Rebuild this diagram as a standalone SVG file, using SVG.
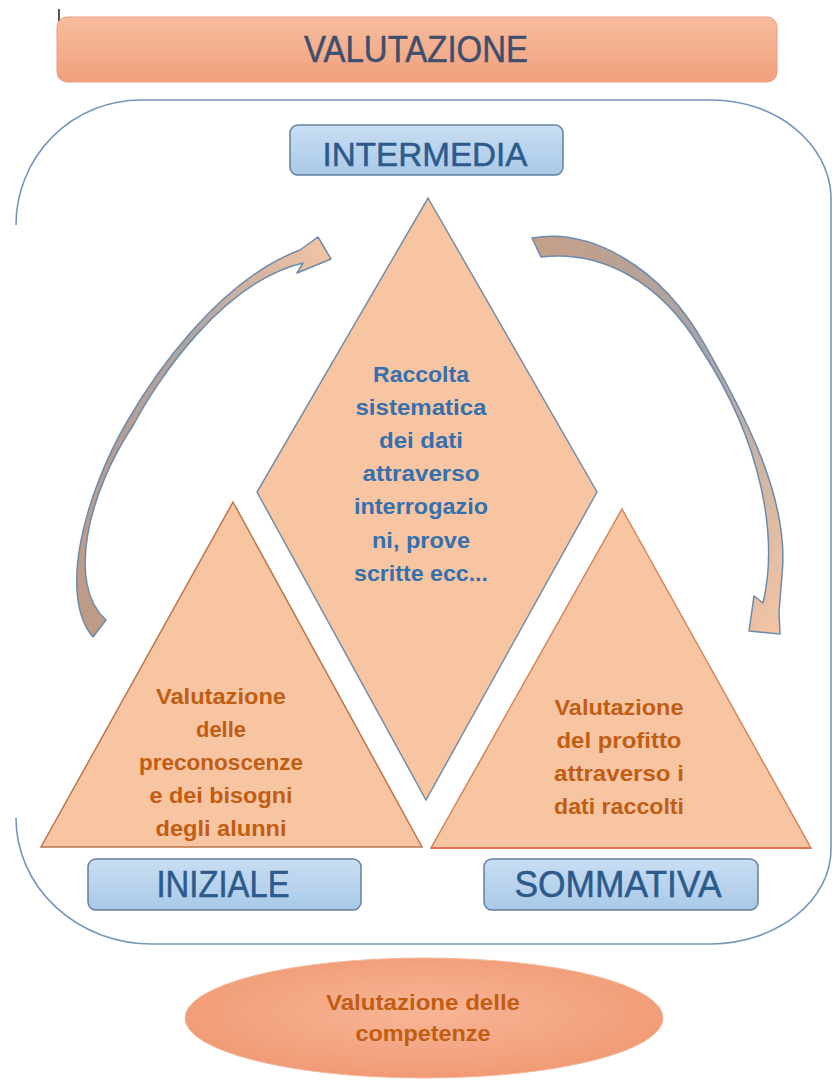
<svg xmlns="http://www.w3.org/2000/svg" width="832" height="1081" viewBox="0 0 832 1081">
  <defs>
    <linearGradient id="gBar" x1="0" y1="0" x2="0" y2="1">
      <stop offset="0" stop-color="#f8bd9e"/>
      <stop offset="1" stop-color="#f0a07c"/>
    </linearGradient>
    <linearGradient id="gBox" x1="0" y1="0" x2="0" y2="1">
      <stop offset="0" stop-color="#c9def2"/>
      <stop offset="1" stop-color="#a9c9e8"/>
    </linearGradient>
    <radialGradient id="gEll" cx="0.5" cy="0.45" r="0.6">
      <stop offset="0" stop-color="#f8b696"/>
      <stop offset="1" stop-color="#f09872"/>
    </radialGradient>
    <linearGradient id="gArrL" x1="0" y1="1" x2="1" y2="0">
      <stop offset="0" stop-color="#c09a82"/>
      <stop offset="0.6" stop-color="#b0a4a0"/>
      <stop offset="1" stop-color="#f6c6a4"/>
    </linearGradient>
    <linearGradient id="gArrR" x1="0" y1="0" x2="1" y2="1">
      <stop offset="0" stop-color="#c4a088"/>
      <stop offset="0.5" stop-color="#aaa4a4"/>
      <stop offset="1" stop-color="#f6c6a4"/>
    </linearGradient>
    <style>
      .box{fill:url(#gBox);stroke:#62809f;stroke-width:1.5}
      .lbl{font-family:"Liberation Sans",Arial,sans-serif;fill:#2c5a8c;text-anchor:middle;stroke:#2c5a8c;stroke-width:0.5}
      .shape{fill:#f8c5a3}
      .blue{font-family:"Liberation Sans",Arial,sans-serif;font-weight:bold;font-size:22px;fill:#3570ac;text-anchor:middle}
      .orng{font-family:"Liberation Sans",Arial,sans-serif;font-weight:bold;font-size:22px;fill:#c25d14;text-anchor:middle}
      .arrow{stroke:#6d8bad;stroke-width:1.5;stroke-linejoin:round}
    </style>
  </defs>
  <rect width="832" height="1081" fill="#ffffff"/>

  <!-- cursor mark -->
  <line x1="59" y1="9" x2="59" y2="34" stroke="#222" stroke-width="1.5"/>

  <g id="valutazione">
    <rect x="57" y="17" width="720" height="65" rx="10" fill="url(#gBar)" stroke="#eb9c7a" stroke-width="1"/>
    <text class="lbl" x="416" y="62" font-size="36" textLength="224" lengthAdjust="spacingAndGlyphs" style="fill:#3d4f6d;stroke:#3d4f6d">VALUTAZIONE</text>
  </g>

  <g id="frame">
    <path d="M16,225 A125,125 0 0 1 141,100 H712 A120,100 0 0 1 831,195 V850 A122,95 0 0 1 712,944 H152 A136,126 0 0 1 16,818" fill="none" stroke="#7595ba" stroke-width="1.6"/>
  </g>

  <g id="intermedia">
    <rect class="box" x="290" y="125" width="273" height="50" rx="8"/>
    <text class="lbl" x="425" y="166" font-size="34" textLength="205" lengthAdjust="spacingAndGlyphs">INTERMEDIA</text>
  </g>

  <g id="diamond">
    <polygon class="shape" points="428,198 597,492 426,800 257,492" stroke="#7a8ca2" stroke-width="1.5"/>
    <text class="blue" x="421" y="382" textLength="96" lengthAdjust="spacingAndGlyphs">Raccolta</text>
    <text class="blue" x="421" y="415" textLength="131" lengthAdjust="spacingAndGlyphs">sistematica</text>
    <text class="blue" x="421" y="448" textLength="84" lengthAdjust="spacingAndGlyphs">dei dati</text>
    <text class="blue" x="421" y="481" textLength="117" lengthAdjust="spacingAndGlyphs">attraverso</text>
    <text class="blue" x="421" y="514" textLength="134" lengthAdjust="spacingAndGlyphs">interrogazio</text>
    <text class="blue" x="421" y="548" textLength="98" lengthAdjust="spacingAndGlyphs">ni, prove</text>
    <text class="blue" x="421" y="581" textLength="134" lengthAdjust="spacingAndGlyphs">scritte ecc...</text>
  </g>

  <g id="iniziale-tri">
    <polygon class="shape" points="233,502 422,847 41,847" stroke="#b9774a" stroke-width="1.5"/>
    <text class="orng" x="221" y="704" textLength="130" lengthAdjust="spacingAndGlyphs">Valutazione</text>
    <text class="orng" x="221" y="737" textLength="50" lengthAdjust="spacingAndGlyphs">delle</text>
    <text class="orng" x="221" y="770" textLength="164" lengthAdjust="spacingAndGlyphs">preconoscenze</text>
    <text class="orng" x="221" y="803" textLength="143" lengthAdjust="spacingAndGlyphs">e dei bisogni</text>
    <text class="orng" x="221" y="836" textLength="131" lengthAdjust="spacingAndGlyphs">degli alunni</text>
  </g>

  <g id="sommativa-tri">
    <polygon class="shape" points="622,509 811,848 431,848" stroke="#d2855a" stroke-width="1.5"/>
    <line x1="431" y1="848" x2="811" y2="848" stroke="#e0704e" stroke-width="2"/>
    <text class="orng" x="619" y="715" textLength="129" lengthAdjust="spacingAndGlyphs">Valutazione</text>
    <text class="orng" x="619" y="748" textLength="125" lengthAdjust="spacingAndGlyphs">del profitto</text>
    <text class="orng" x="619" y="781" textLength="130" lengthAdjust="spacingAndGlyphs">attraverso i</text>
    <text class="orng" x="619" y="814" textLength="130" lengthAdjust="spacingAndGlyphs">dati raccolti</text>
  </g>

  <g id="iniziale">
    <rect class="box" x="88" y="859" width="273" height="51" rx="8"/>
    <text class="lbl" x="223" y="897" font-size="36" textLength="133" lengthAdjust="spacingAndGlyphs">INIZIALE</text>
  </g>

  <g id="sommativa">
    <rect class="box" x="484" y="859" width="274" height="51" rx="8"/>
    <text class="lbl" x="618" y="897" font-size="36" textLength="207" lengthAdjust="spacingAndGlyphs">SOMMATIVA</text>
  </g>

  <g id="competenze">
    <ellipse cx="424" cy="1018" rx="239" ry="60" fill="url(#gEll)" stroke="#f2b79a" stroke-width="1"/>
    <text class="orng" x="423" y="1010" textLength="194" lengthAdjust="spacingAndGlyphs">Valutazione delle</text>
    <text class="orng" x="423" y="1041" textLength="135" lengthAdjust="spacingAndGlyphs">competenze</text>
  </g>

  <g id="connectors">
    <path class="arrow" fill="url(#gArrL)" d="M93,637 C58,596 84,495 128,420 C150,382 215,282 300,250 L318,237 L331,259 L297,273 L303,263 C222,282 156,382 134,424 C88,492 66,585 106,620 Z"/>
    <path class="arrow" fill="url(#gArrR)" d="M532,238 C590,228 660,265 705,345 C745,415 790,500 782,575 L779,612 L780,634 L749,631 L754,596 L763,603 C778,540 764,445 701,349 C660,280 600,250 541,257 Z"/>
  </g>
</svg>
